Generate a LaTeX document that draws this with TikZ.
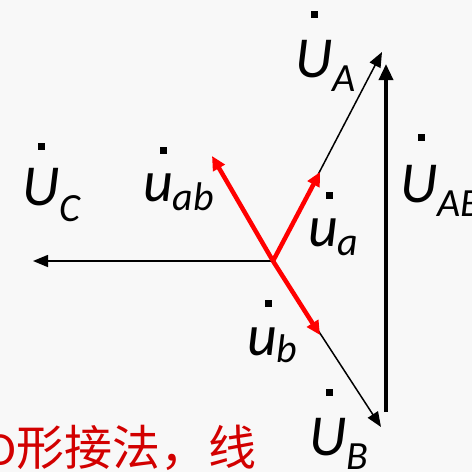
\documentclass[tikz,border=0pt]{standalone}
\usepackage{fontspec}
\setmainfont{Carlito}
\newfontfamily\cjk{Noto Sans CJK SC}
\usetikzlibrary{arrows.meta}
\definecolor{bgc}{RGB}{248,248,248}
\definecolor{txtred}{RGB}{210,0,0}
\newcommand\lbl[3]{{\fontsize{58}{58}\selectfont\itshape #1}\raisebox{-#3pt}{\fontsize{40}{40}\selectfont\itshape #2}}
\tikzset{
  blk/.style={draw=black,line width=1.5pt,-{Triangle[length=15pt,width=12pt]}},
  redarr/.style={draw=red,line width=4.5pt,-{Triangle[length=14pt,width=13pt]}},
  bigarr/.style={draw=black,line width=3.4pt,-{Triangle[length=16pt,width=14pt]}},
  lab/.style={anchor=base west,inner sep=0pt,outer sep=0pt},
  dotm/.style={fill=black,minimum size=7pt,inner sep=0pt,draw=none,rectangle}
}
\begin{document}
\begin{tikzpicture}[x=1pt,y=-1pt]
\useasboundingbox (0,0) rectangle (472,472);
\clip (0,0) rectangle (472,472);
\fill[bgc] (0,0) rectangle (472,472);
\coordinate (O) at (273,261);
\coordinate (A) at (382,52);
\coordinate (B) at (381,427);
\coordinate (C) at (33,261);
\coordinate (a) at (320,172);
\coordinate (b) at (320,335);
\coordinate (ab) at (212,156);
\coordinate (vb) at (386,412);
\coordinate (vt) at (386,64);
\draw[blk] (O) -- (A);
\draw[blk] (O) -- (B);
\draw[blk] (O) -- (C);
\draw[redarr] (O) -- (a);
\draw[redarr] (O) -- (b);
\draw[redarr] (O) -- (ab);
\draw[bigarr] (vb) -- (vt);
% labels
\node[lab] (lUA) at (295,77) {\lbl{U}{A}{14}};
\node[dotm] (dUA) at (314.5,14.5) {};
\node[lab] (lUC) at (22,205) {\lbl{U}{C}{16}};
\node[dotm] (dUC) at (41.5,146) {};
\node[lab] (luab) at (143,201) {\lbl{u}{ab}{9}};
\node[dotm] (duab) at (163.5,150.5) {};
\node[lab] (lua) at (308,246) {\lbl{u}{a}{9}};
\node[dotm] (dua) at (329.5,195) {};
\node[lab] (lUAB) at (400,202) {\lbl{U}{AB}{14}};
\node[dotm] (dUAB) at (421,137) {};
\node[lab] (lub) at (247,355) {\lbl{u}{b}{7}};
\node[dotm] (dub) at (268.5,303.5) {};
\node[lab] (lUB) at (309,455) {\lbl{U}{B}{14}};
\node[dotm] (dUB) at (329.5,392.5) {};
\node[lab,text=txtred] (bottom) at (-13,465) {\fontsize{48}{48}\selectfont D\cjk 形接法，线};
\end{tikzpicture}
\end{document}
